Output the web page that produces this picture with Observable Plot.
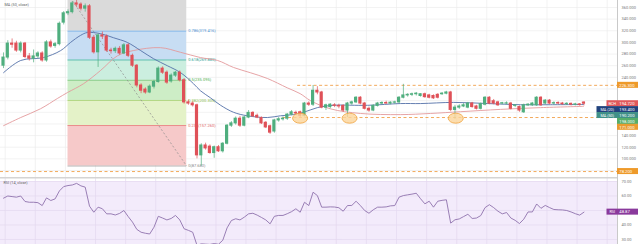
<!DOCTYPE html>
<html>
<head>
<meta charset="utf-8">
<script src="https://cdn.jsdelivr.net/npm/d3@7"></script>
<script src="https://cdn.jsdelivr.net/npm/@observablehq/plot@0.6"></script>
<style>
  html, body { margin: 0; padding: 0; background: #ffffff; }
  #chart { width: 640px; height: 244px; overflow: hidden; }
  #chart svg { display: block; overflow: hidden; }
</style>
</head>
<body>
<div id="chart"></div>
<script>
// Daily candles, indexed by bar number
const open = [
  260,274,298,298,286,298,276,272,276,281,
  269,300,294,297,334,350,352,367,365,358,
  362,308,283,312,310,286,285,289,281,295,
  277,260,226,219,214,224,232,255,248,233,
  243,248,235,197,195,192,106,123,121,110,
  120,113,126,157,161,169,157,171,179,174,
  170,162,156,147,166,168,169,176,179,180,
  174,195,193,217,214,188,189,192,191,191,
  183,195,197,205,195,186,183,191,195,196,
  195,196.5,197,205,209,210,211,208,211,209,
  208,210,211,212,214,184,188,190,188,195,
  190,186,193,205,199,197,195,195,195,191,
  189,180,192,192,192,205,195,200,195,196,
  195,194,194.5,193,193.6,196.8
];
const high = [
  282,303,306,302,301,300,281,287,284,284,
  303,304,300,335,353,356,370,372,368,366,
  365,312,315,318,313,290,292,293,298,298,
  280,262,229,222,227,235,258,258,251,246,
  250,251,238,201,198,194,126,127,124,122,
  123,128,159,164,172,173,173,183,181,177,
  172,164,158,168,171,172,178,183,182,182,
  197,198,226,224,216,194,195,195,194,193,
  197,199,207,207,197,189,193,197,198,199,
  198,199,207,228,212,213,214,212,213,211,
  210,212,214,216,216,192,193,195,197,197,
  192,196,207,207,202,199,197,198,197,193,
  191,194,195,197,207,207,202,202,198,198,
  197,196.5,196,195.5,195,198
];
const low = [
  255,270,290,283,282,272,268,265,272,266,
  266,290,290,294,330,346,349,360,354,352,
  305,280,257,305,283,280,281,278,279,274,
  257,222,212,211,212,220,230,245,228,230,
  240,232,194,192,189,100,87.7,115,108,101,
  111,110,124,154,158,154,155,169,171,169,
  159,152,142,144,163,165,166,174,175,171,
  172,190,190,210,186,183,186,188,186,180,
  171,192,195,193,184,180,181,189,193,194,
  193,194,195,203,206,207,208,206,204,203,
  202,203,209,210,181,168,185,188,186,187,
  184,184,191,193,193,190,193,193,184,188,
  180,178,190,190,190,190,193,193,193,193,
  192,192,191,191,190.5,191
];
const close = [
  274,298,296,286,298,275,272,276,281,269,
  300,293,297,332,350,352,367,365,358,362,
  308,283,312,310,286,285,289,281,295,277,
  260,226,217,214,224,232,255,248,231,243,
  248,235,197,195,192,106,123,118,110,120,
  113,126,157,161,169,157,171,179,173,171,
  161,154,145,166,168,169,176,180,178,174,
  195,193,217,214,188,192,193,191,190,183,
  195,197,205,195,186,183,191,195,196,195,
  196.5,197,205,209,210,211,212,211,206,205,
  204,205,212,214,184,188,190,192,195,189,
  186,194,205,195,195,192,195.6,195.4,186,191.7,
  183,192,193,195,205,192,200,195,195.7,195,
  194,194.6,193,193.6,192.4,194.72
];

// RSI (14, close), one value per bar
const rsi = [
  58.5,60.0,59.6,59.2,60.0,56.2,55.7,55.7,55.4,53.4,
  58.7,56.9,58.0,63.5,66.5,67.2,67.6,68.7,67.0,66.1,
  53.0,48.8,52.3,51.2,47.7,47.7,46.9,48.0,50.0,45.8,
  42.0,37.0,35.0,34.3,33.8,38.5,46.0,44.8,43.5,44.5,
  46.6,43.5,37.4,36.3,35.0,26.0,27.0,26.8,26.6,27.2,
  26.7,29.5,38.0,43.1,44.3,43.5,45.4,47.7,48.1,46.8,
  45.2,43.5,40.8,46.0,46.6,46.6,47.8,49.2,51.2,48.8,
  55.7,53.4,62.6,60.3,52.3,52.3,52.5,52.4,51.9,49.5,
  53.4,53.5,56.4,53.4,50.0,48.1,50.5,52.3,52.3,52.5,
  53.2,53.4,59.2,60.3,60.8,61.3,61.9,58.1,54.6,56.4,
  52.3,56.4,57.0,57.4,41.3,43.6,44.2,45.8,47.4,44.5,
  44.8,46.5,52.0,54.0,52.0,49.5,47.7,48.6,44.8,43.2,
  41.0,44.0,49.0,49.0,54.5,51.5,53.5,52.0,50.7,50.5,
  50.4,50.0,49.0,47.8,46.8,48.87
];

// Moving averages, sampled along the bars
const maFastIdx = [0,4,9.3,13.3,15.6,17.9,19.5,22.6,25.6,28.8,31.9,34.9,38.1,41.2,44.2,45.8,48.1,50.5,53.5,56.7,61.4,64.4,67.4,69.8,73,76.7,84.7,92.3,97,104.7,112.6,120.2,127.2,134.9];
const maFastVal = [248,269,274,286,300,312,317,315,308,300,286,272,260,248,229,217,205,192,180,174,171,174,176,180,188,192,192,195,195,197,195,193,193,193.4];
const maSlowIdx = [0,4,8.6,12.6,14.9,18.6,22.6,26.5,30.2,36.5,41.2,45.8,49.8,53.5,57.4,61.4,66,69,71.4,76,83,92.3,99.3,106.3,115.6,124.9,134.9];
const maSlowVal = [157,171,186,204,214,229,252,277,286,291,283,274,269,257,248,238,222,212,200,186,178,176,178,181,185,188,190.2];

// Fibonacci retracement drawn between bar 15 and bar 42.6
const fibStart = 15, fibEnd = 42.6, fibLow = 87.68, fibHigh = 382.51;
const fibLevels = [0, 0.236, 0.382, 0.5, 0.618, 0.786, 1];
const fibLineColors = ["#9a9a9a", "#e57373", "#9ccc65", "#66bb6a", "#26a69a", "#64a8e6", "#9a9a9a"];
const fibTextColors = ["#8a8a8a", "#e06666", "#8bbf4f", "#4caf50", "#2a9d8f", "#4a8fd0", "#8a8a8a"];
const fibBandColors = ["#f6c9c9", "#e4f2c8", "#cdedc6", "#cbeedf", "#c7ddf3", "#dadada"];

// Horizontal dashed levels and where they start
const levelPrice = [226.3, 171, 78.2];
const levelFrom = [68.4, 65, -0.7];

// Support touches marked with ellipses
const touchIdx = [69.1, 80.6, 105.3];
const touchPrice = 169;

// Axis ticks and grid
const priceTicks = [100, 120, 140, 240, 260, 280, 300, 320, 340, 360];
const priceGrid = [80, 100, 120, 140, 160, 180, 200, 220, 240, 260, 280, 300, 320, 340, 360];
const rsiTicks = [30, 40, 60, 70];
const rsiGrid = [30, 40, 50, 60, 70];
const rsiUpper = 70;
const weekIdx = [0.4, 7.4, 14.4, 21.4, 28.4, 35.4, 42.4, 49.4, 56.4, 63.4, 70.4, 77.4, 84.4, 91.4, 98.4, 105.4, 112.4, 119.4, 126.4, 133.4, 140.4];

// ---- layout ----
const W = 640, AXIS_W = 23, MAIN_H = 177, RSI_H = 67;
const xDomain = [-0.7, 142.8];
const priceDomain = [68, 372];
const rsiDomain = [26.55, 72.76];
const axisIdx = xDomain[1];
const pxX = (xDomain[1] - xDomain[0]) / (W - AXIS_W);
const pxP = (priceDomain[1] - priceDomain[0]) / MAIN_H;
const pxR = (rsiDomain[1] - rsiDomain[0]) / RSI_H;
const FONT = "Roboto, 'Liberation Sans', sans-serif";
const fmt3 = d3.format(".3f");
const fmt2 = d3.format(".2f");

const UP = "#4fae7e", DOWN = "#df5158";
const bars = close.map((c, i) => ({i, o: open[i], h: high[i], l: low[i], c, col: c >= open[i] ? UP : DOWN}));
const fast = maFastIdx.map((i, k) => ({i, v: maFastVal[k]}));
const slow = maSlowIdx.map((i, k) => ({i, v: maSlowVal[k]}));
const fibPrice = l => fibLow + l * (fibHigh - fibLow);
const fibBands = fibBandColors.map((fill, k) => ({lo: fibPrice(fibLevels[k]), hi: fibPrice(fibLevels[k + 1]), fill}));
const fibRows = fibLevels.map((l, k) => ({l, p: fibPrice(l), line: fibLineColors[k], text: fibTextColors[k], label: `${l}(${fmt3(fibPrice(l))})`}));
const levels = levelPrice.map((p, k) => ({p, from: levelFrom[k]}));
const touches = touchIdx.map(i => ({i, p: touchPrice}));
const rsiRows = rsi.map((r, i) => ({i, r}));

// Price-scale badges: name part sits left of the scale, value on the scale
function badges(items, py, fs) {
  const nameW = d => d.name ? d.name.length * 2.5 + 3 : 0;
  return [
    Plot.rect(items, {x1: d => axisIdx - nameW(d) * pxX, x2: () => axisIdx + 21 * pxX,
      y1: d => d.y - 3 * py, y2: d => d.y + 3 * py, fill: "color"}),
    Plot.text(items.filter(d => d.name), {x: d => axisIdx - nameW(d) * pxX / 2, y: "y", text: "name",
      fill: "#ffffff", fontSize: fs - 0.4, textAnchor: "middle"}),
    Plot.text(items, {x: () => axisIdx + 1.8 * pxX, y: "y", text: "label",
      fill: "#ffffff", fontSize: fs, textAnchor: "start"})
  ];
}

const last = close.length - 1;
const stacked = [
  {name: "BCH", v: close[last], color: "#e0585b"},
  {name: "MA (20)", v: maFastVal[maFastVal.length - 1], color: "#21427d"},
  {name: "MA (50)", v: maSlowVal[maSlowVal.length - 1], color: "#3f9088"},
  {name: "", v: high[last], color: "#55ad69"},
  {name: "", v: levelPrice[1], color: "#e99b30"}
].map((d, k) => ({...d, y: close[last] - k * 5.9 * pxP, label: fmt3(d.v)}));
const pinned = [
  {name: "", v: levelPrice[0], color: "#ee9a2a"},
  {name: "", v: levelPrice[2], color: "#ee9a2a"}
].map(d => ({...d, y: d.v, label: fmt3(d.v)}));

const main = Plot.plot({
  width: W, height: MAIN_H,
  marginTop: 0, marginBottom: 0, marginLeft: 0, marginRight: AXIS_W,
  style: {fontFamily: FONT, fontSize: "4px", color: "#777777", background: "transparent"},
  color: {type: "identity"},
  x: {domain: xDomain, axis: null},
  y: {domain: priceDomain, axis: "right", ticks: priceTicks, tickSize: 0, tickPadding: 4, tickFormat: fmt3, label: null},
  marks: [
    Plot.ruleY(priceGrid, {stroke: "#ececec", strokeWidth: 0.7}),
    Plot.ruleX(weekIdx, {stroke: "#ececec", strokeWidth: 0.7}),
    Plot.rect(fibBands, {x1: () => fibStart, x2: () => fibEnd, y1: "lo", y2: "hi", fill: "fill", clip: true}),
    Plot.ruleY(fibRows, {y: "p", x1: () => fibStart, x2: () => fibEnd, stroke: "line", strokeWidth: 0.7, clip: true}),
    Plot.link([{}], {x1: () => fibStart, y1: () => fibHigh, x2: () => fibEnd, y2: () => fibLow,
      stroke: "#8c8c8c", strokeWidth: 0.7, strokeDasharray: "2,2", clip: true}),
    Plot.text(fibRows.filter(d => d.l < 1), {x: () => fibEnd, y: "p", text: "label", fill: "text",
      dx: 1.5, textAnchor: "start", fontSize: 4, clip: true}),
    Plot.ruleY(levels, {y: "p", x1: "from", x2: () => axisIdx, stroke: "#f0a04b", strokeWidth: 0.9, strokeDasharray: "3,2.5"}),
    Plot.line(slow, {x: "i", y: "v", stroke: "#e39a9c", strokeWidth: 0.9, curve: "catmull-rom", clip: true}),
    Plot.line(fast, {x: "i", y: "v", stroke: "#5471a8", strokeWidth: 0.9, curve: "catmull-rom", clip: true}),
    Plot.ruleX(bars, {x: "i", y1: "l", y2: "h", stroke: "col", strokeWidth: 0.7, clip: true}),
    Plot.rect(bars, {x1: d => d.i - 0.37, x2: d => d.i + 0.37, y1: "o", y2: "c", fill: "col",
      insetTop: -0.5, insetBottom: -0.5, clip: true}),
    Plot.rect(touches, {x1: d => d.i - 1.75, x2: d => d.i + 1.75, y1: d => d.p - 8.6, y2: d => d.p + 8.6,
      rx: 10, ry: 10, fill: "#fbd49a", fillOpacity: 0.8, stroke: "#f0a23c", strokeWidth: 0.8}),
    Plot.text(["MA (50, close)"], {frameAnchor: "top-left", dx: 4, dy: 3, fontSize: 3.8, fill: "#666666"}),
    Plot.ruleX([axisIdx], {stroke: "#c9c9c9", strokeWidth: 1}),
    ...badges(pinned, pxP, 4.2),
    ...badges(stacked, pxP, 4.2)
  ]
});

const rsiBadge = [{name: "RSI", v: rsi[last], y: rsi[last], color: "#8a3a9c", label: fmt2(rsi[last])}];

const lower = Plot.plot({
  width: W, height: RSI_H,
  marginTop: 0, marginBottom: 0, marginLeft: 0, marginRight: AXIS_W,
  style: {fontFamily: FONT, fontSize: "4px", color: "#777777", background: "transparent"},
  color: {type: "identity"},
  x: {domain: xDomain, axis: null},
  y: {domain: rsiDomain, axis: "right", ticks: rsiTicks, tickSize: 0, tickPadding: 4, tickFormat: fmt2, label: null},
  marks: [
    Plot.rect([{}], {x1: () => xDomain[0], x2: () => axisIdx, y1: () => rsiDomain[0], y2: () => rsiUpper, fill: "#f3ebfb"}),
    Plot.ruleY(rsiGrid, {stroke: "#e4d8ef", strokeWidth: 0.7}),
    Plot.ruleX(weekIdx, {stroke: "#e4d8ef", strokeWidth: 0.7}),
    Plot.ruleY([rsiDomain[1]], {stroke: "#d4d4d4", strokeWidth: 2}),
    Plot.line(rsiRows, {x: "i", y: "r", stroke: "#8f72ad", strokeWidth: 0.9, clip: true}),
    Plot.text(["RSI (14, close)"], {frameAnchor: "top-left", dx: 3, dy: 4, fontSize: 3.8, fill: "#666666"}),
    Plot.ruleX([axisIdx], {stroke: "#c9c9c9", strokeWidth: 1}),
    ...badges(rsiBadge, pxR, 4.2)
  ]
});

const root = document.getElementById("chart");
root.append(main, lower);
</script>
</body>
</html>
